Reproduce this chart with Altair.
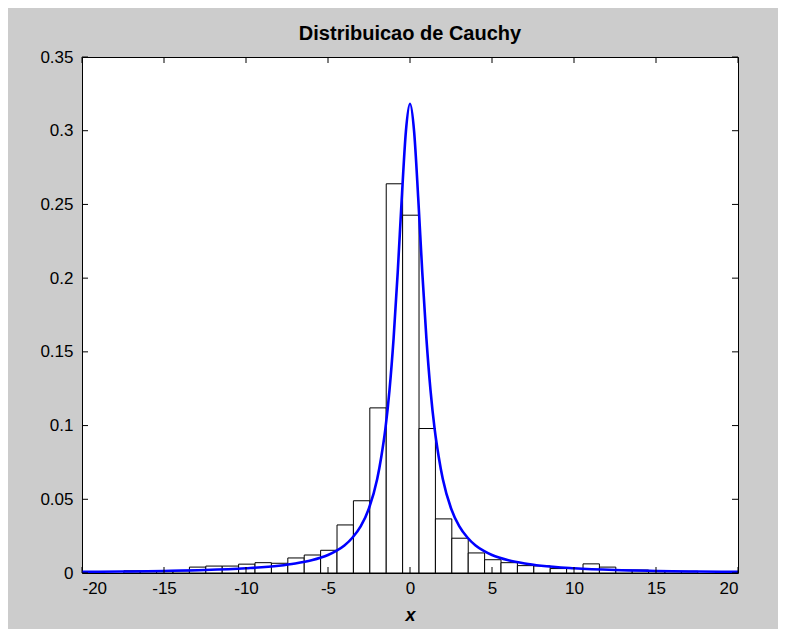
import altair as alt
import pandas as pd

# Histogram bins (centres, width 1) and heights
bin_centers = [-16.95, -15.95, -14.95, -13.95, -12.95, -11.95, -10.95, -9.95, -8.95, -7.95,
               -6.95, -5.95, -4.95, -3.95, -2.95, -1.95, -0.95, 0.05, 1.05, 2.05,
               3.05, 4.05, 5.05, 6.05, 7.05, 8.05, 9.05, 10.05, 11.05, 12.05,
               13.05, 14.05, 15.05, 16.05, 17.05]
bin_heights = [0.0015, 0.0014, 0.0014, 0.0016, 0.0040, 0.0047, 0.0047, 0.0060, 0.0070, 0.0066,
               0.0102, 0.0122, 0.0154, 0.0326, 0.0490, 0.1120, 0.2640, 0.2427, 0.0980, 0.0367,
               0.0236, 0.0136, 0.0090, 0.0070, 0.0050, 0.0048, 0.0030, 0.0030, 0.0062, 0.0040,
               0.0020, 0.0020, 0.0017, 0.0012, 0.0012]

# Density curve points
curve_x = [-20, -17.5, -15, -12.5, -10, -8, -7, -6, -5, -4.5, -4, -3.5, -3, -2.5, -2, -1.75,
           -1.5, -1.25, -1, -0.75, -0.5, -0.25, 0, 0.25, 0.5, 0.75, 1, 1.25, 1.5, 1.75,
           2, 2.5, 3, 3.5, 4, 4.5, 5, 6, 7, 8, 10, 12.5, 15, 17.5, 20]
curve_y = [0.0008, 0.0010, 0.0014, 0.0020, 0.0032, 0.0049, 0.0064, 0.0086, 0.0122, 0.0150,
           0.0187, 0.0241, 0.0318, 0.0439, 0.0637, 0.0789, 0.0979, 0.1241, 0.1592, 0.2037,
           0.2546, 0.2996, 0.3183, 0.2996, 0.2546, 0.2037, 0.1592, 0.1241, 0.0979, 0.0789,
           0.0637, 0.0439, 0.0318, 0.0241, 0.0187, 0.0150, 0.0122, 0.0086, 0.0064, 0.0049,
           0.0032, 0.0020, 0.0014, 0.0010, 0.0008]

x_ticks = [-20, -15, -10, -5, 0, 5, 10, 15, 20]
y_ticks = [0, 0.05, 0.1, 0.15, 0.2, 0.25, 0.3, 0.35]

FONT = "Liberation Sans"
W, H = 656, 516

bars_df = pd.DataFrame({"c": bin_centers, "h": bin_heights})
curve_df = pd.DataFrame({"x": curve_x, "y": curve_y})
xt_df = pd.DataFrame({"v": x_ticks})
yt_df = pd.DataFrame({"v": y_ticks})

xscale = alt.Scale(domain=[-20, 20], nice=False, zero=False)
yscale = alt.Scale(domain=[0, 0.35], nice=False, zero=False)

xaxis = alt.Axis(values=x_ticks, labelExpr="'' + datum.value", ticks=False, domain=False,
                 grid=False, labelFontSize=17, labelFont=FONT, labelColor="black",
                 labelPadding=7, title="x", titleFont=FONT, titleFontSize=18,
                 titleFontWeight="bold", titleFontStyle="italic", titleColor="black",
                 titlePadding=10)
yaxis = alt.Axis(values=y_ticks, labelExpr="'' + datum.value", ticks=False, domain=False,
                 grid=False, labelFontSize=17, labelFont=FONT, labelColor="black",
                 labelPadding=9, title=None)

bars = alt.Chart(bars_df).transform_calculate(
    x0="datum.c - 0.5", x1="datum.c + 0.5"
).mark_bar(fill="white", stroke="black", strokeWidth=1, clip=True).encode(
    x=alt.X("x0:Q", scale=xscale, axis=xaxis),
    x2="x1:Q",
    y=alt.Y("h:Q", scale=yscale, axis=yaxis),
    y2=alt.datum(0),
)

line = alt.Chart(curve_df).mark_line(color="#0000ff", strokeWidth=2.6,
                                     interpolate="monotone", clip=True).encode(
    x=alt.X("x:Q", scale=xscale),
    y=alt.Y("y:Q", scale=yscale),
)

tick_style = dict(color="black", strokeWidth=1)
xt_bottom = alt.Chart(xt_df).mark_rule(**tick_style).encode(
    x=alt.X("v:Q", scale=xscale), y=alt.value(H), y2=alt.value(H - 6))
xt_top = alt.Chart(xt_df).mark_rule(**tick_style).encode(
    x=alt.X("v:Q", scale=xscale), y=alt.value(0), y2=alt.value(6))
yt_left = alt.Chart(yt_df).mark_rule(**tick_style).encode(
    y=alt.Y("v:Q", scale=yscale), x=alt.value(0), x2=alt.value(6))
yt_right = alt.Chart(yt_df).mark_rule(**tick_style).encode(
    y=alt.Y("v:Q", scale=yscale), x=alt.value(W), x2=alt.value(W - 6))

chart = alt.layer(bars, line, xt_bottom, xt_top, yt_left, yt_right).properties(
    width=W, height=H,
    title=alt.TitleParams("Distribuicao de Cauchy", font=FONT, fontSize=20,
                          fontWeight="bold", color="black", offset=4, anchor="middle"),
    autosize=alt.AutoSizeParams(type="none"),
    padding={"left": 74, "top": 49, "right": 40, "bottom": 56},
    background="#cccccc",
).configure_view(stroke="black", strokeWidth=1, fill="white")

chart.save("out.html", embed_options={"renderer": "svg", "actions": False})
